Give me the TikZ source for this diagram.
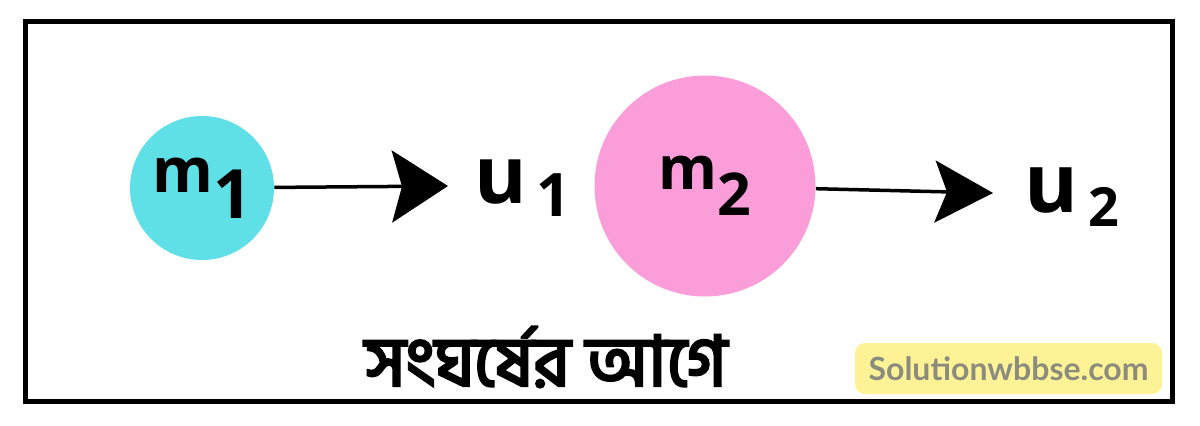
\documentclass[tikz,border=0pt]{standalone}
\usepackage{fontspec}
\usetikzlibrary{positioning, arrows.meta}
\newfontfamily\labelfont{Open Sans}
\newfontfamily\bengfont[Script=Bengali]{Hind Siliguri}
\newfontfamily\markfont{Lato}
\newcommand{\heavytext}[1]{\special{pdf:literal direct 2 Tr 1.3 w}#1\special{pdf:literal direct 0 Tr}}
\definecolor{ballcyan}{RGB}{94,224,230}
\definecolor{ballpink}{RGB}{251,157,216}
\definecolor{markyellow}{RGB}{253,243,150}
\definecolor{markgray}{RGB}{140,140,126}

\begin{document}
\begin{tikzpicture}[x=0.5pt, y=-0.5pt,
        ball/.style={circle, inner sep=0pt, font=\labelfont\bfseries},
        speed/.style={anchor=base west, inner sep=0pt, font=\labelfont\bfseries}]
        \useasboundingbox (0,0) rectangle (1200,425);
        \draw[line width=2.5pt] (25.5,21) rectangle (1172,401);
        % the two balls
        \node (m1) [ball, fill=ballcyan, minimum size=72pt] at (202,188)
            {\fontsize{31}{31}\selectfont m\raisebox{-13pt}{\fontsize{34}{34}\selectfont 1}};
        \node (m2) [ball, fill=ballpink, minimum size=110.5pt] at (705,186)
            {\fontsize{30}{30}\selectfont m\raisebox{-13pt}{\fontsize{29.5}{29.5}\selectfont 2}};
        \node (u1) [speed] at (474,203)
            {\fontsize{40}{40}\selectfont u\hspace{5pt}\raisebox{-6.5pt}{\fontsize{30}{30}\selectfont 1}};
        \node (u2) [speed] at (1024,212)
            {\fontsize{41}{41}\selectfont u\hspace{5pt}\raisebox{-7pt}{\fontsize{27}{27}\selectfont 2}};
        \coordinate (t1) at (448,186);
        \coordinate (t2) at (993,193);
        \draw [-{Stealth[length=28pt, width=36pt, inset=5pt]}, line width=1.75pt] (m1) -- (t1);
        \draw [-{Stealth[length=29pt, width=31pt, inset=6pt]}, line width=1.75pt] (m2) -- (t2);
        \node (title) [font=\bengfont\fontsize{35}{35}\selectfont] at (546,357) {\heavytext{সংঘর্ষের আগে}};
        \node (site) [fill=markyellow, rounded corners=5pt, minimum width=153.5pt, minimum height=25.5pt,
            text=markgray, font={\markfont\bfseries\fontsize{16}{16}\selectfont}] at (1008.5,368.5) {Solutionwbbse.com};
    \end{tikzpicture}
\end{document}
